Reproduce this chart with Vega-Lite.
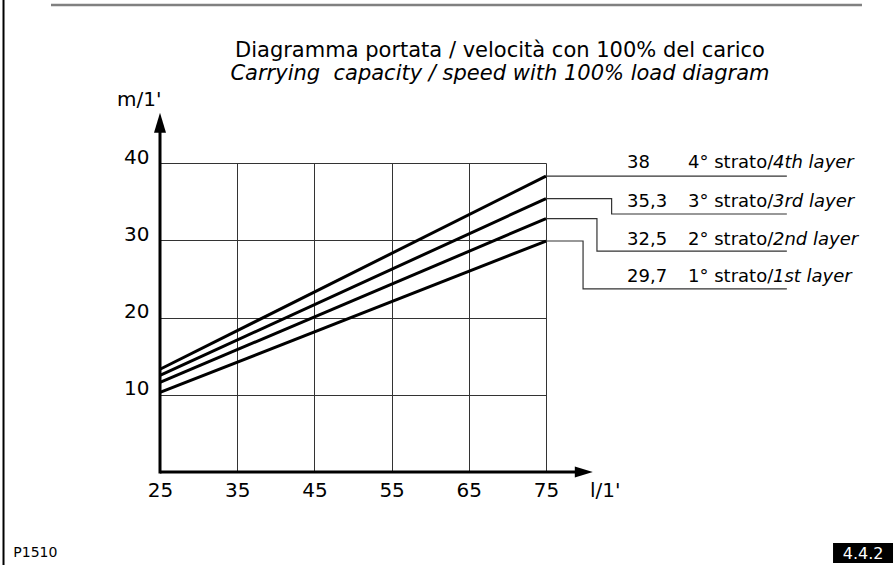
{
  "$schema": "https://vega.github.io/schema/vega-lite/v6.json",
  "width": 386,
  "height": 309,
  "autosize": "none",
  "padding": {"left": 160, "top": 163, "right": 350, "bottom": 93},
  "background": "white",
  "config": {"view": {"stroke": null}, "font": "DejaVu Sans"},
  "datasets": {
    "lines": [
      {"layer": "1", "x": 25, "y": 10.3}, {"layer": "1", "x": 75, "y": 29.9},
      {"layer": "2", "x": 25, "y": 11.6}, {"layer": "2", "x": 75, "y": 32.8},
      {"layer": "3", "x": 25, "y": 12.5}, {"layer": "3", "x": 75, "y": 35.4},
      {"layer": "4", "x": 25, "y": 13.3}, {"layer": "4", "x": 75, "y": 38.3}
    ],
    "connectors": [
      {"layer": "4", "order": 0, "x": 75, "y": 38.3}, {"layer": "4", "order": 1, "x": 106.2, "y": 38.3},
      {"layer": "3", "order": 0, "x": 75, "y": 35.4}, {"layer": "3", "order": 1, "x": 83.5, "y": 35.4},
      {"layer": "3", "order": 2, "x": 83.5, "y": 33.4}, {"layer": "3", "order": 3, "x": 106.2, "y": 33.4},
      {"layer": "2", "order": 0, "x": 75, "y": 32.8}, {"layer": "2", "order": 1, "x": 81.6, "y": 32.8},
      {"layer": "2", "order": 2, "x": 81.6, "y": 28.6}, {"layer": "2", "order": 3, "x": 106.2, "y": 28.6},
      {"layer": "1", "order": 0, "x": 75, "y": 29.9}, {"layer": "1", "order": 1, "x": 79.8, "y": 29.9},
      {"layer": "1", "order": 2, "x": 79.8, "y": 23.7}, {"layer": "1", "order": 3, "x": 106.2, "y": 23.7}
    ],
    "labels": [
      {"x": 85.5, "y": 39.35, "value": "38", "x2": 93.4, "name": "4° strato/", "x3": 104.4, "en": "4th layer"},
      {"x": 85.5, "y": 34.3, "value": "35,3", "x2": 93.4, "name": "3° strato/", "x3": 104.4, "en": "3rd layer"},
      {"x": 85.5, "y": 29.4, "value": "32,5", "x2": 93.4, "name": "2° strato/", "x3": 104.4, "en": "2nd layer"},
      {"x": 85.5, "y": 24.6, "value": "29,7", "x2": 93.4, "name": "1° strato/", "x3": 104.4, "en": "1st layer"}
    ]
  },
  "encoding": {
    "x": {
      "field": "x", "type": "quantitative",
      "scale": {"domain": [25, 75], "nice": false, "zero": false},
      "axis": {
        "title": null, "values": [25, 35, 45, 55, 65, 75], "grid": true, "gridColor": "#333", "gridWidth": 1,
        "domain": false, "ticks": false, "tickSize": 0, "labelFont": "DejaVu Sans", "labelFontSize": 20,
        "labelColor": "black", "labelPadding": 24, "labelBaseline": "alphabetic", "labelFlush": false, "labelOverlap": false
      }
    },
    "y": {
      "field": "y", "type": "quantitative",
      "scale": {"domain": [0, 40], "nice": false, "zero": false},
      "axis": {
        "title": null, "values": [10, 20, 30, 40], "grid": true, "gridColor": "#333", "gridWidth": 1,
        "domain": false, "ticks": false, "tickSize": 0, "labelFont": "DejaVu Sans", "labelFontSize": 20,
        "labelColor": "black", "labelPadding": 11, "labelBaseline": "alphabetic", "labelFlush": false, "labelOverlap": false
      }
    }
  },
  "layer": [
    {
      "data": {"name": "lines"},
      "mark": {"type": "line", "color": "black", "strokeWidth": 3},
      "encoding": {"detail": {"field": "layer"}}
    },
    {
      "data": {"name": "connectors"},
      "mark": {"type": "line", "color": "#333", "strokeWidth": 1.2},
      "encoding": {"detail": {"field": "layer"}, "order": {"field": "order", "type": "quantitative"}}
    },
    {
      "data": {"values": [{"x": 25, "y": 0, "x2": 78.8, "y2": 0}, {"x": 25, "y": -0.2, "x2": 25, "y2": 44}]},
      "mark": {"type": "rule", "color": "black", "strokeWidth": 3},
      "encoding": {"x2": {"field": "x2"}, "y2": {"field": "y2"}}
    },
    {
      "data": {"values": [{"x": 25, "y": 45.2}]},
      "mark": {"type": "point", "shape": "M0,-1L0.6,1L-0.6,1Z", "size": 400, "filled": true, "color": "black", "opacity": 1}
    },
    {
      "data": {"values": [{"x": 79.9, "y": 0}]},
      "mark": {"type": "point", "shape": "M1,0L-1,0.6L-1,-0.6Z", "size": 324, "filled": true, "color": "black", "opacity": 1}
    },
    {
      "data": {"values": [{"x": 4.73, "y": -12.1, "x2": 4.73, "y2": 61.2}]},
      "mark": {"type": "rule", "color": "black", "strokeWidth": 2},
      "encoding": {"x2": {"field": "x2"}, "y2": {"field": "y2"}}
    },
    {
      "data": {"values": [{"x": 10.88, "y": 60.45, "x2": 115.93, "y2": 60.45}]},
      "mark": {"type": "rule", "color": "#808080", "strokeWidth": 2.5},
      "encoding": {"x2": {"field": "x2"}, "y2": {"field": "y2"}}
    },
    {
      "data": {"values": [{"x": 69.04, "y": 53.76, "t": "Diagramma portata / velocità con 100% del carico"}]},
      "mark": {"type": "text", "font": "DejaVu Sans", "fontSize": 21, "align": "center", "baseline": "alphabetic", "color": "black"},
      "encoding": {"text": {"field": "t"}}
    },
    {
      "data": {"values": [{"x": 69.04, "y": 50.75, "t": "Carrying \u00a0capacity / speed with 100% load diagram"}]},
      "mark": {"type": "text", "font": "DejaVu Sans", "fontSize": 21, "fontStyle": "italic", "align": "center", "baseline": "alphabetic", "color": "black"},
      "encoding": {"text": {"field": "t"}}
    },
    {
      "data": {"values": [{"x": 19.43, "y": 47.4, "t": "m/1'"}, {"x": 80.7, "y": -3.24, "t": "l/1'"}]},
      "mark": {"type": "text", "font": "DejaVu Sans", "fontSize": 20, "align": "left", "baseline": "alphabetic", "color": "black"},
      "encoding": {"text": {"field": "t"}}
    },
    {
      "data": {"name": "labels"},
      "mark": {"type": "text", "font": "DejaVu Sans", "fontSize": 18, "align": "left", "baseline": "alphabetic", "color": "black"},
      "encoding": {"text": {"field": "value"}}
    },
    {
      "data": {"name": "labels"},
      "mark": {"type": "text", "font": "DejaVu Sans", "fontSize": 18, "align": "left", "baseline": "alphabetic", "color": "black"},
      "encoding": {"x": {"field": "x2", "type": "quantitative"}, "text": {"field": "name"}}
    },
    {
      "data": {"name": "labels"},
      "mark": {"type": "text", "font": "DejaVu Sans", "fontSize": 18, "fontStyle": "italic", "align": "left", "baseline": "alphabetic", "color": "black"},
      "encoding": {"x": {"field": "x3", "type": "quantitative"}, "text": {"field": "en"}}
    },
    {
      "data": {"values": [{"x": 6.0, "y": -11.0, "t": "P1510"}]},
      "mark": {"type": "text", "font": "DejaVu Sans", "fontSize": 14, "align": "left", "baseline": "alphabetic", "color": "black"},
      "encoding": {"text": {"field": "t"}}
    },
    {
      "data": {"values": [{"x": 112.18, "y": -9.19, "x2": 119.95, "y2": -11.78}]},
      "mark": {"type": "rect", "color": "black"},
      "encoding": {"x2": {"field": "x2"}, "y2": {"field": "y2"}}
    },
    {
      "data": {"values": [{"x": 116.07, "y": -11.2, "t": "4.4.2"}]},
      "mark": {"type": "text", "font": "DejaVu Sans", "fontSize": 16, "align": "center", "baseline": "alphabetic", "color": "white"},
      "encoding": {"text": {"field": "t"}}
    }
  ]
}
